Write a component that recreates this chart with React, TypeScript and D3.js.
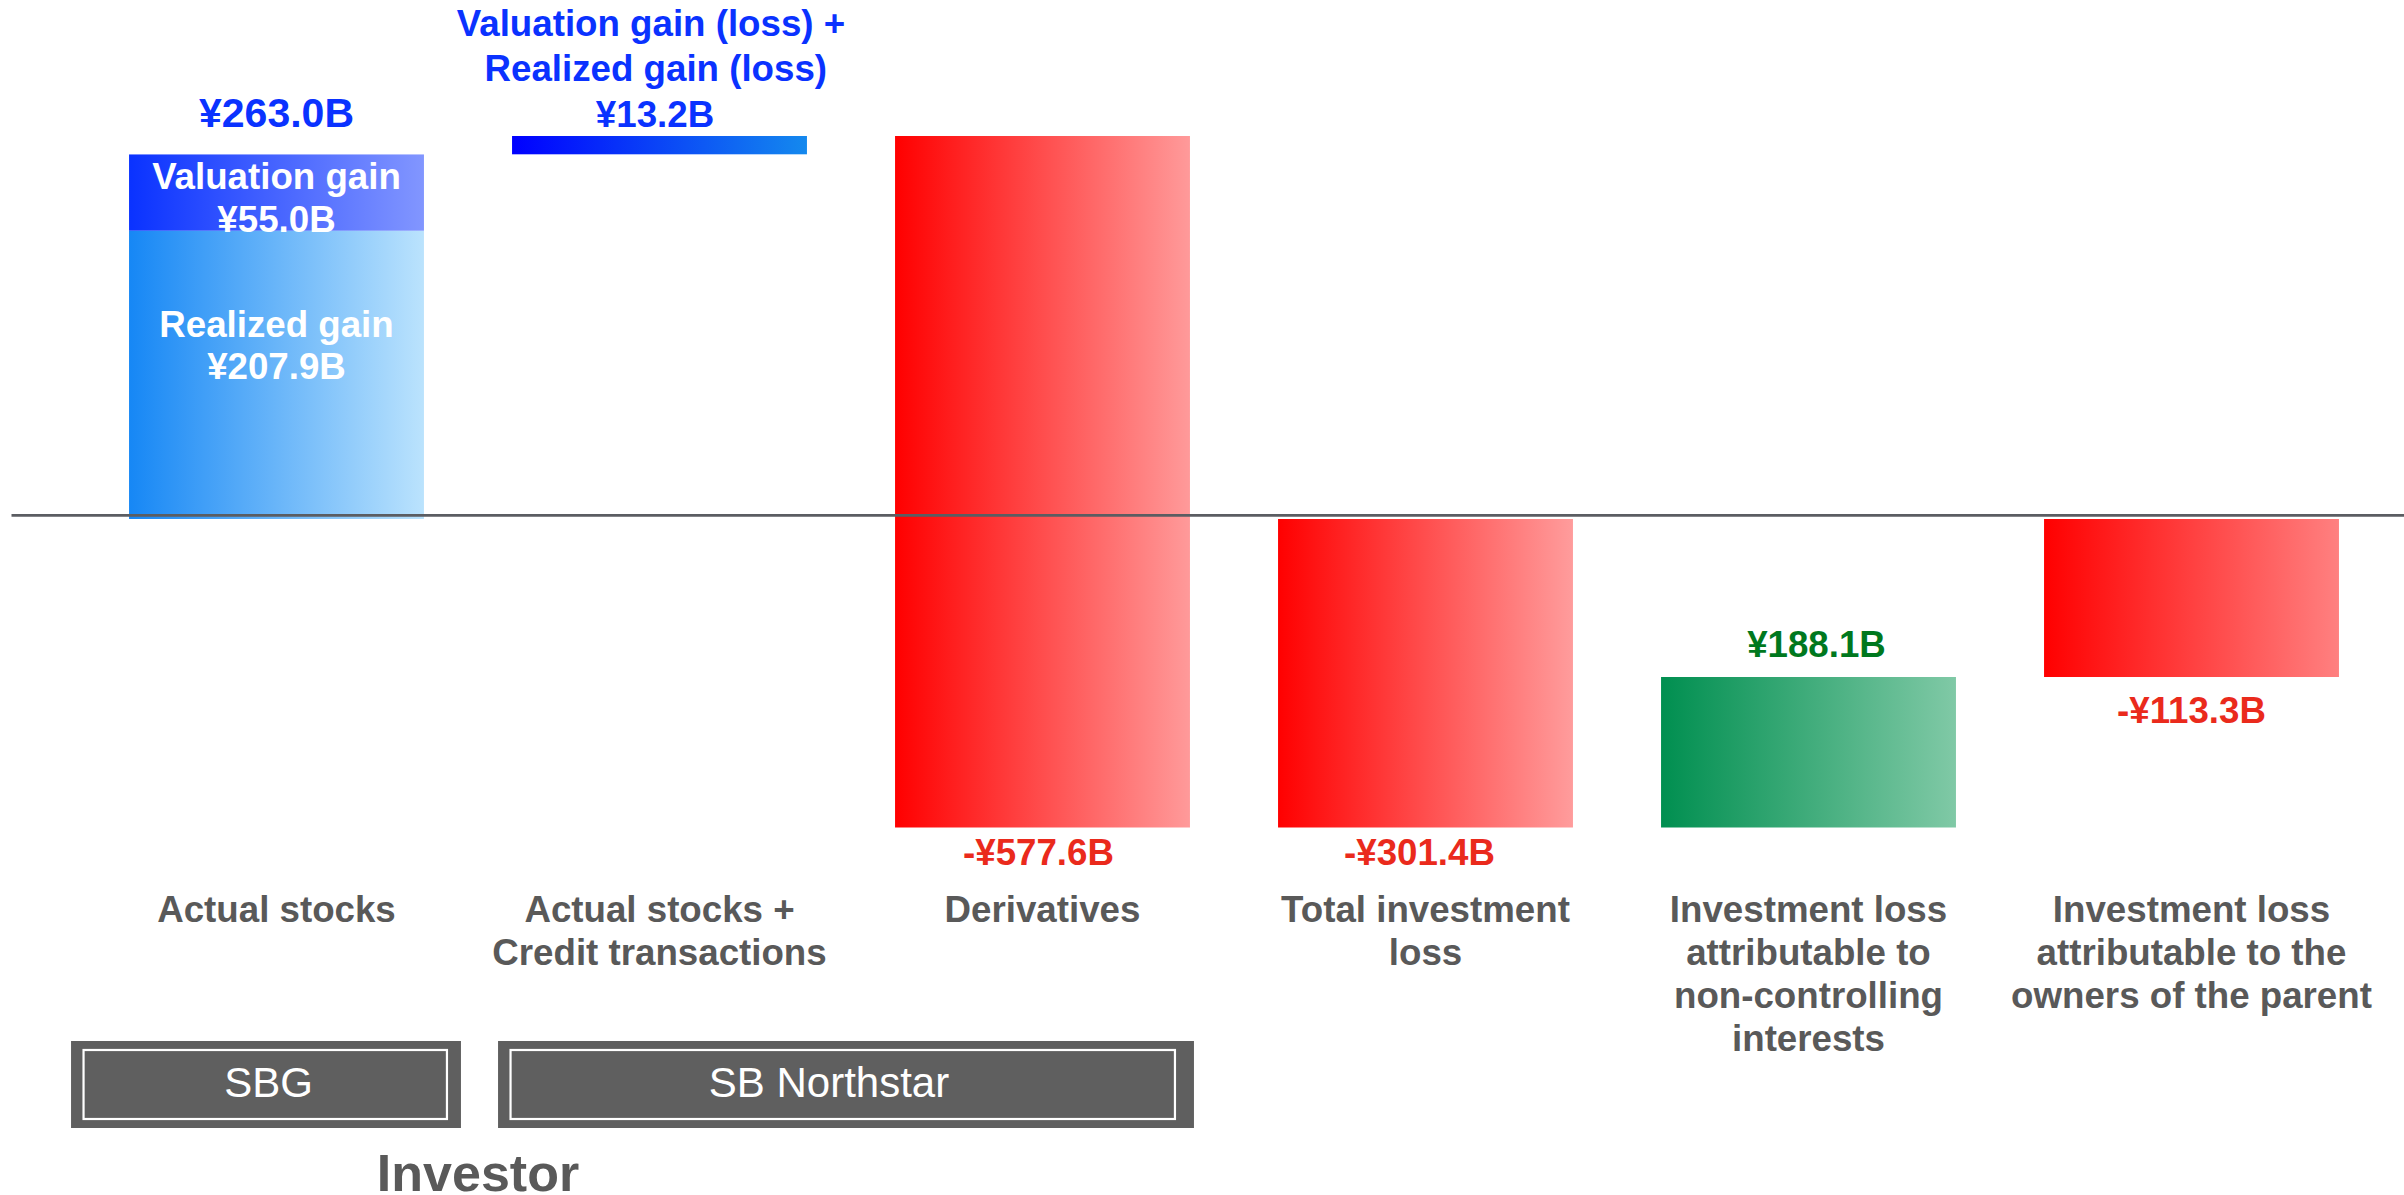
import React from "react";
import * as d3 from "d3";

// ---------- data ----------
const categories = [
  "Actual stocks",
  "Actual stocks + Credit transactions",
  "Derivatives",
  "Total investment loss",
  "Investment loss attributable to non-controlling interests",
  "Investment loss attributable to the owners of the parent",
];
const categoryLines = [
  ["Actual stocks"],
  ["Actual stocks +", "Credit transactions"],
  ["Derivatives"],
  ["Total investment", "loss"],
  ["Investment loss", "attributable to", "non-controlling", "interests"],
  ["Investment loss", "attributable to the", "owners of the parent"],
];
const values = [263.0, 13.2, -577.6, -301.4, 188.1, -113.3];
const barKinds = ["delta", "delta", "delta", "total", "delta", "total"];
const valueLabels = ["¥263.0B", "¥13.2B", "-¥577.6B", "-¥301.4B", "¥188.1B", "-¥113.3B"];
const actualStockParts = [
  { name: "Realized gain", value: 207.9, label: "¥207.9B" },
  { name: "Valuation gain", value: 55.0, label: "¥55.0B" },
];
const bar2Title = ["Valuation gain (loss) +", "Realized gain (loss)"];
const investorGroups = ["SBG", "SB Northstar"];
const investorTitle = "Investor";

// ---------- layout / style ----------
const W = 2404;
const H = 1195;
const FONT = "'Liberation Sans', Arial, Helvetica, sans-serif";
const BLUE_TEXT = "#0a32ff";
const RED_TEXT = "#ea2a1c";
const GREEN_TEXT = "#00781e";
const GREY_TEXT = "#595959";

const gradients: Record<string, [string, string]> = {
  realized: ["#1687f5", "#bbe3fd"],
  valuation: ["#0a32ff", "#8296ff"],
  bar2: ["#0000ff", "#1489ee"],
  red0: ["#ff0000", "#ff9a9a"],
  red1: ["#ff0000", "#ff9c9c"],
  green: ["#008f50", "#80c9a6"],
  red2: ["#ff0000", "#ff8080"],
};
const barGradient = ["", "bar2", "red0", "red1", "green", "red2"];

export default function App() {
  // waterfall
  let running = 0;
  const bars = values.map((v, i) => {
    let y0: number, y1: number;
    if (barKinds[i] === "total") {
      y0 = 0;
      y1 = v;
    } else {
      y0 = running;
      y1 = running + v;
    }
    running = y1;
    return { i, y0, y1, v };
  });
  const maxV = d3.max(bars, (b) => Math.max(b.y0, b.y1)) as number;
  const minV = d3.min(bars, (b) => Math.min(b.y0, b.y1)) as number;
  const lastTotal = values[values.length - 1];

  const x = d3
    .scaleBand<string>()
    .domain(categories)
    .range([85, 2383])
    .paddingInner(0.23)
    .paddingOuter(0.115);
  // piecewise (not-to-scale) value axis, as in the original slide
  const y = d3
    .scaleLinear()
    .domain([minV, lastTotal, 0, maxV])
    .range([827.5, 677, 519, 136]);

  const bw = x.bandwidth();
  const cx = (i: number) => (x(categories[i]) as number) + bw / 2;

  // stacked parts of bar 0
  let acc = 0;
  const parts = actualStockParts.map((p) => {
    const s = { ...p, y0: acc, y1: acc + p.value };
    acc += p.value;
    return s;
  });

  const labelStyle = {
    fontFamily: FONT,
    fontWeight: 700,
    fontSize: 36.7,
    textAnchor: "middle" as const,
  };

  const x0 = x(categories[0]) as number;
  const x1 = x(categories[1]) as number;
  const x2 = x(categories[2]) as number;
  const groupsBox = [
    { name: investorGroups[0], left: x0 - 58, right: x0 + bw + 37, tx: 268.6 },
    { name: investorGroups[1], left: x1 - 14, right: x2 + bw + 4, tx: 829 },
  ];

  return (
    <svg
      width={W}
      height={H}
      style={{ position: "absolute", left: 0, top: 0, background: "#fff" }}
    >
      <defs>
        {Object.entries(gradients).map(([id, [c0, c1]]) => (
          <linearGradient key={id} id={`g-${id}`} x1="0" y1="0" x2="1" y2="0">
            <stop offset="0" stopColor={c0} />
            <stop offset="1" stopColor={c1} />
          </linearGradient>
        ))}
      </defs>

      {/* bar 0: stacked */}
      {parts.map((p, k) => (
        <rect
          key={p.name}
          x={x0}
          y={y(p.y1)}
          width={bw}
          height={y(p.y0) - y(p.y1)}
          fill={k === 0 ? "url(#g-realized)" : "url(#g-valuation)"}
        />
      ))}
      {/* waterfall bars */}
      {bars.slice(1).map((b) => (
        <rect
          key={b.i}
          x={x(categories[b.i])}
          y={y(Math.max(b.y0, b.y1))}
          width={bw}
          height={Math.abs(y(b.y0) - y(b.y1))}
          fill={`url(#g-${barGradient[b.i]})`}
        />
      ))}

      {/* zero line */}
      <line x1={11.5} x2={W} y1={515.3} y2={515.3} stroke="#5b5d62" strokeWidth={2.7} />

      {/* inner labels bar 0 */}
      <text {...labelStyle} fill="#fff" x={cx(0)} y={y(parts[1].y1) + 34.3}>
        {parts[1].name}
      </text>
      <text {...labelStyle} fill="#fff" x={cx(0)} y={y(parts[1].y1) + 77.7}>
        {parts[1].label}
      </text>
      <text {...labelStyle} fill="#fff" x={cx(0)} y={y(parts[0].y1) + 106}>
        {parts[0].name}
      </text>
      <text {...labelStyle} fill="#fff" x={cx(0)} y={y(parts[0].y1) + 148.6}>
        {parts[0].label}
      </text>

      {/* value labels */}
      <text {...labelStyle} fontSize={41} fill={BLUE_TEXT} x={cx(0)} y={y(bars[0].y1) - 27.6}>
        {valueLabels[0]}
      </text>
      {bar2Title.map((t, k) => (
        <text
          key={t}
          {...labelStyle}
          fill={BLUE_TEXT}
          x={cx(1) - (k === 0 ? 8.5 : 3.7)}
          y={y(bars[1].y1) - 9.3 - 45.3 * (bar2Title.length - k)}
        >
          {t}
        </text>
      ))}
      <text {...labelStyle} fill={BLUE_TEXT} x={cx(1) - 4.5} y={y(bars[1].y1) - 9.3}>
        {valueLabels[1]}
      </text>
      <text {...labelStyle} fill={RED_TEXT} x={cx(2) - 4} y={y(bars[2].y1) + 37.7}>
        {valueLabels[2]}
      </text>
      <text {...labelStyle} fill={RED_TEXT} x={cx(3) - 6} y={y(bars[3].y1) + 37.7}>
        {valueLabels[3]}
      </text>
      <text {...labelStyle} fill={GREEN_TEXT} x={cx(4) + 8} y={y(bars[4].y1) - 20.2}>
        {valueLabels[4]}
      </text>
      <text {...labelStyle} fill={RED_TEXT} x={cx(5)} y={y(bars[5].y1) + 46}>
        {valueLabels[5]}
      </text>

      {/* category labels */}
      {categoryLines.map((lines, i) =>
        lines.map((ln, k) => (
          <text key={`${i}-${k}`} {...labelStyle} fill={GREY_TEXT} x={cx(i)} y={922 + 43 * k}>
            {ln}
          </text>
        ))
      )}

      {/* investor boxes */}
      {groupsBox.map((g) => (
        <g key={g.name}>
          <rect x={g.left} y={1041} width={g.right - g.left} height={87} fill="#5f5f5f" />
          <rect
            x={g.left + 12.5}
            y={1050}
            width={g.right - g.left - 31.5 + (g.name === "SBG" ? 5 : 0)}
            height={69}
            fill="none"
            stroke="#ffffff"
            strokeWidth={2.2}
          />
          <text
            x={g.tx}
            y={1097.3}
            fill="#fff"
            fontFamily={FONT}
            fontSize={42}
            textAnchor="middle"
          >
            {g.name}
          </text>
        </g>
      ))}
      <text
        x={478}
        y={1190.7}
        fill={GREY_TEXT}
        fontFamily={FONT}
        fontWeight={700}
        fontSize={52}
        textAnchor="middle"
      >
        {investorTitle}
      </text>
    </svg>
  );
}
